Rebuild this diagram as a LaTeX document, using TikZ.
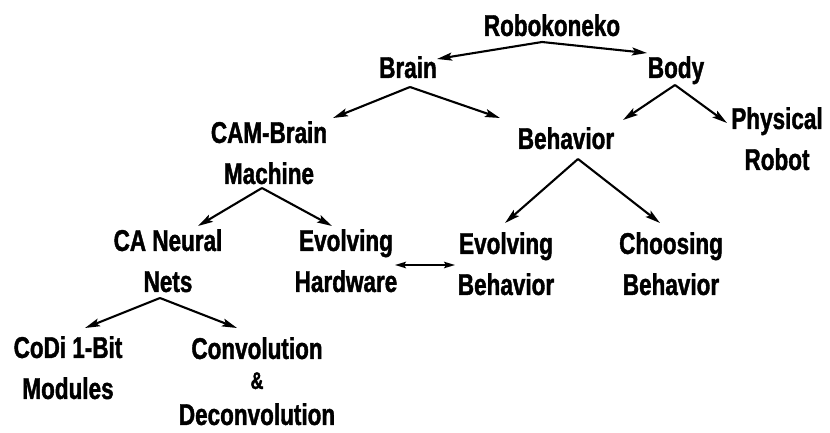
\documentclass[tikz,border=0pt]{standalone}
\usepackage{fontspec}
\setmainfont{Liberation Sans}[FakeStretch=0.75,BoldFeatures={FakeBold=1.3}]
\usetikzlibrary{arrows.meta,calc}
\begin{document}
\begin{tikzpicture}[x=1pt,y=-1pt,
  lbl/.style={anchor=north,inner sep=0pt,align=center,
    font=\fontsize{30}{41}\selectfont\bfseries},
  arr/.style={line width=2.1pt,-{Stealth[length=15pt,width=8pt,inset=3pt]}},
  darr/.style={line width=1.8pt,{Stealth[length=11pt,width=6.5pt,inset=2pt]}-{Stealth[length=11pt,width=6.5pt,inset=2pt]}}]
\useasboundingbox (0,0) rectangle (830,433);
\fill[white] (0,0) rectangle (830,433);
\node[lbl] (robo) at (552,14) {Robokoneko};
\node[lbl] (brain) at (408,56) {Brain};
\node[lbl] (body) at (676,56) {Body};
\node[lbl] (cam) at (269,121) {CAM-Brain\\Machine};
\node[lbl] (behav) at (566,127) {Behavior};
\node[lbl] (phys) at (777,107) {Physical\\Robot};
\node[lbl] (canet) at (168,229) {CA Neural\\Nets};
\node[lbl] (evhw) at (346,229) {Evolving\\Hardware};
\node[lbl] (evbeh) at (506,232) {Evolving\\Behavior};
\node[lbl] (choose) at (671,232) {Choosing\\Behavior};
\node[lbl] (codi) at (68,336) {CoDi 1-Bit\\Modules};
\node[lbl] (conv) at (257,337) {Convolution\\[-11pt]{\fontsize{24}{24}\selectfont\&}\\[-5pt]Deconvolution};
\draw[arr] ($(robo.north)+(-10,28)$) -- ($(brain.north)+(29,3)$);
\draw[arr] ($(robo.north)+(-10,28)$) -- ($(body.north)+(-29,-3)$);
\draw[arr] ($(brain.north)+(2,31)$) -- ($(cam.north)+(64,-3)$);
\draw[arr] ($(brain.north)+(2,31)$) -- ($(behav.north)+(-66,-9)$);
\draw[arr] ($(body.north)+(-1,29)$) -- ($(behav.north)+(57,-7)$);
\draw[arr] ($(body.north)+(-1,29)$) -- ($(phys.north)+(-50,16)$);
\draw[arr] ($(behav.north)+(12,32)$) -- ($(evbeh.north)+(-1,-9)$);
\draw[arr] ($(behav.north)+(12,32)$) -- ($(choose.north)+(-11,-9)$);
\draw[arr] ($(cam.north)+(-7,67)$) -- ($(canet.north)+(30,-3)$);
\draw[arr] ($(cam.north)+(-7,67)$) -- ($(evhw.north)+(-14,-3)$);
\draw[arr] ($(canet.north)+(-8,69)$) -- ($(codi.north)+(17,-8)$);
\draw[arr] ($(canet.north)+(-8,69)$) -- ($(conv.north)+(-20,-9)$);
\draw[darr] ($(evhw.north)+(49,36)$) -- ($(evbeh.north)+(-51,33)$);
\end{tikzpicture}
\end{document}
